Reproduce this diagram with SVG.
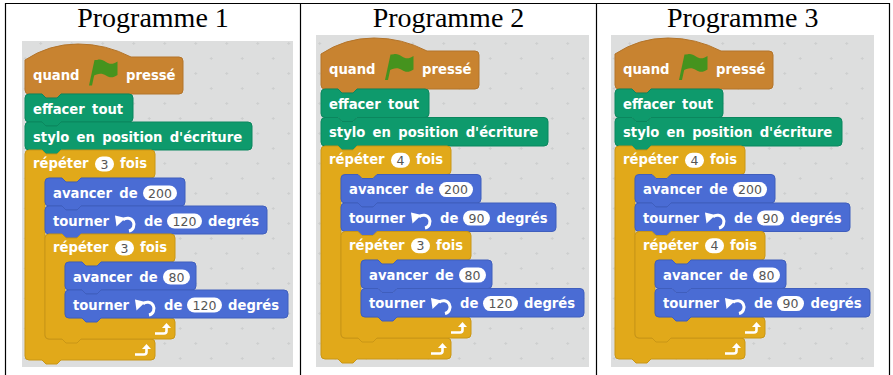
<svg xmlns="http://www.w3.org/2000/svg" width="893" height="375" viewBox="0 0 893 375">
<style>
.t{font-family:'DejaVu Sans','Liberation Sans',sans-serif;font-weight:bold;font-size:13.2px;fill:#fff;word-spacing:2.7px}
.n{font-family:'DejaVu Sans','Liberation Sans',sans-serif;font-size:12.5px;fill:#555;text-anchor:middle}
.title{font-family:'Liberation Serif',serif;font-size:28px;text-anchor:middle;fill:#000}
.ev{fill:#C88330;stroke:#B3742A;stroke-width:1}
.pen{fill:#0E9A6C;stroke:#0B875E;stroke-width:1}
.ctl{fill:#E1A91A;stroke:#C99616;stroke-width:1}
.mot{fill:#4A6CD4;stroke:#3F5EBD;stroke-width:1}
.slot{fill:#fff}
.bg{fill:url(#grid)}
.line{stroke:#000;stroke-width:1.2;fill:none}
</style>
<defs>
<pattern id="grid" width="31" height="30" patternUnits="userSpaceOnUse" x="2" y="6">
<rect width="31" height="30" fill="#DDDEDE"/>
<path d="M6.25,7.5 H9.25 M7.75,6 V9 M21.75,22.5 H24.75 M23.25,21 V24" stroke="#CDCFCF" stroke-width="1"/>
</pattern>
<g id="flag" fill="#45931E">
<path d="M1,27.5 L4,27.5 L9.5,2 L6.5,2 Z"/>
<path d="M7,3.5 C10,0.5 14,1 18,4 C21.5,6.5 25,6.5 29.5,3.5 L29.5,17 C25,20 21.5,20 18,17.5 C14,15 10,15 4.3,18.5 Z"/>
</g>
<g id="turn">
<path d="M0,0.5 L10.5,3 L1.5,11.5 Z" fill="#fff"/>
<path d="M8,5 A6.5,6.5 0 1 1 14,16" fill="none" stroke="#fff" stroke-width="3"/>
</g>
<g id="loop">
<path d="M0,11.5 L9,11.5 Q11.5,11.5 11.5,9 L11.5,5" fill="none" stroke="#fff" stroke-width="2.6"/>
<path d="M7,6 L16,6 L11.5,1 Z" fill="#fff"/>
</g>
</defs>

<g id="table">
<rect x="0" y="0" width="893" height="375" fill="#fff"/>
<path class="line" d="M5.5,3.5 H889.5 M5.5,3 V375 M300.5,3 V375 M596.5,3 V375 M889.5,3 V375"/>
<text class="title" x="153" y="27">Programme 1</text>
<text class="title" x="448.5" y="27">Programme 2</text>
<text class="title" x="742.7" y="27">Programme 3</text>
<rect class="bg" x="22" y="41" width="271" height="326"/>
<rect class="bg" x="316" y="35" width="273" height="332"/>
<rect class="bg" x="611" y="35" width="263" height="332"/>
</g>

<!-- Programme 1 -->
<g id="p1-hat" transform="translate(25,44)">
<path class="ev" d="M0,16 Q24,0 53,0 Q81,0 106,13 L154,13 Q158,13 158,17 L158,46 Q158,50 154,50 L36,50 L32,54 L21,54 L17,50 L4,50 Q0,50 0,46 Z"/>
<text class="t" x="8" y="35.5">quand</text>
<use href="#flag" x="63" y="14"/>
<text class="t" x="101" y="35.5">pressé</text>
</g>
<g id="p1-effacer" transform="translate(25,94)">
<path class="pen" d="M0,4 Q0,0 4,0 L17,0 L21,4 L32,4 L36,0 L104,0 Q108,0 108,4 L108,24 Q108,28 104,28 L36,28 L32,32 L21,32 L17,28 L4,28 Q0,28 0,24 Z"/>
<text class="t" x="8" y="19.5">effacer tout</text>
</g>
<g id="p1-stylo" transform="translate(25,122)">
<path class="pen" d="M0,4 Q0,0 4,0 L17,0 L21,4 L32,4 L36,0 L223,0 Q227,0 227,4 L227,24 Q227,28 223,28 L36,28 L32,32 L21,32 L17,28 L4,28 Q0,28 0,24 Z"/>
<text class="t" x="8" y="19.5">stylo en position d'écriture</text>
</g>
<g id="p1-repeat-outer" transform="translate(25,150)">
<path class="ctl" d="M0,4 Q0,0 4,0 L17,0 L21,4 L32,4 L36,0 L126,0 Q130,0 130,4 L130,24 Q130,28 126,28 L56,28 L52,32 L41,32 L37,28 L23,28 Q20,28 20,31 L20,186 Q20,189 23,189 L126,189 Q130,189 130,193 L130,206 Q130,210 126,210 L36,210 L32,214 L21,214 L17,210 L4,210 Q0,210 0,206 Z"/>
<text class="t" x="8" y="18">répéter</text>
<rect class="slot" x="70" y="6.5" width="19" height="15" rx="7.5"/>
<text class="n" x="79.5" y="18.5">3</text>
<text class="t" x="95" y="18">fois</text>
<use href="#loop" x="110" y="193"/>
</g>
<g id="p1-avancer-200" transform="translate(45,178)">
<path class="mot" d="M0,4 Q0,0 4,0 L17,0 L21,4 L32,4 L36,0 L136,0 Q140,0 140,4 L140,24 Q140,28 136,28 L36,28 L32,32 L21,32 L17,28 L4,28 Q0,28 0,24 Z"/>
<text class="t" x="8" y="19.5">avancer de</text>
<rect class="slot" x="98" y="7.5" width="34" height="15" rx="7.5"/>
<text class="n" x="115" y="19.5">200</text>
</g>
<g id="p1-tourner-120-a" transform="translate(45,206)">
<path class="mot" d="M0,4 Q0,0 4,0 L17,0 L21,4 L32,4 L36,0 L218,0 Q222,0 222,4 L222,24 Q222,28 218,28 L36,28 L32,32 L21,32 L17,28 L4,28 Q0,28 0,24 Z"/>
<text class="t" x="8" y="19.5">tourner</text>
<use href="#turn" x="70" y="9"/>
<text class="t" x="99" y="19.5">de</text>
<rect class="slot" x="122" y="7.5" width="35" height="15" rx="7.5"/>
<text class="n" x="139.5" y="19.5">120</text>
<text class="t" x="163" y="19.5">degrés</text>
</g>
<g id="p1-repeat-inner" transform="translate(45,234)">
<path class="ctl" d="M0,4 Q0,0 4,0 L17,0 L21,4 L32,4 L36,0 L126,0 Q130,0 130,4 L130,24 Q130,28 126,28 L56,28 L52,32 L41,32 L37,28 L23,28 Q20,28 20,31 L20,81 Q20,84 23,84 L126,84 Q130,84 130,88 L130,101 Q130,105 126,105 L36,105 L32,109 L21,109 L17,105 L4,105 Q0,105 0,101 Z"/>
<text class="t" x="8" y="18">répéter</text>
<rect class="slot" x="70" y="6.5" width="19" height="15" rx="7.5"/>
<text class="n" x="79.5" y="18.5">3</text>
<text class="t" x="95" y="18">fois</text>
<use href="#loop" x="110" y="88"/>
</g>
<g id="p1-avancer-80" transform="translate(65,262)">
<path class="mot" d="M0,4 Q0,0 4,0 L17,0 L21,4 L32,4 L36,0 L127,0 Q131,0 131,4 L131,24 Q131,28 127,28 L36,28 L32,32 L21,32 L17,28 L4,28 Q0,28 0,24 Z"/>
<text class="t" x="8" y="19.5">avancer de</text>
<rect class="slot" x="98" y="7.5" width="27" height="15" rx="7.5"/>
<text class="n" x="111.5" y="19.5">80</text>
</g>
<g id="p1-tourner-120-b" transform="translate(65,290)">
<path class="mot" d="M0,4 Q0,0 4,0 L17,0 L21,4 L32,4 L36,0 L219,0 Q223,0 223,4 L223,24 Q223,28 219,28 L36,28 L32,32 L21,32 L17,28 L4,28 Q0,28 0,24 Z"/>
<text class="t" x="8" y="19.5">tourner</text>
<use href="#turn" x="70" y="9"/>
<text class="t" x="99" y="19.5">de</text>
<rect class="slot" x="122" y="7.5" width="35" height="15" rx="7.5"/>
<text class="n" x="139.5" y="19.5">120</text>
<text class="t" x="163" y="19.5">degrés</text>
</g>

<!-- Programme 2 -->
<g id="p2-hat" transform="translate(321,38)">
<path class="ev" d="M0,16 Q24,0 53,0 Q81,0 106,13 L154,13 Q158,13 158,17 L158,47 Q158,51 154,51 L36,51 L32,55 L21,55 L17,51 L4,51 Q0,51 0,47 Z"/>
<text class="t" x="8" y="36">quand</text>
<use href="#flag" x="63" y="14.5"/>
<text class="t" x="101" y="36">pressé</text>
</g>
<g id="p2-effacer" transform="translate(321,89)">
<path class="pen" d="M0,4 Q0,0 4,0 L17,0 L21,4 L32,4 L36,0 L104,0 Q108,0 108,4 L108,24.5 Q108,28.5 104,28.5 L36,28.5 L32,32.5 L21,32.5 L17,28.5 L4,28.5 Q0,28.5 0,24.5 Z"/>
<text class="t" x="8" y="19.6">effacer tout</text>
</g>
<g id="p2-stylo" transform="translate(321,117.5)">
<path class="pen" d="M0,4 Q0,0 4,0 L17,0 L21,4 L32,4 L36,0 L223,0 Q227,0 227,4 L227,24.5 Q227,28.5 223,28.5 L36,28.5 L32,32.5 L21,32.5 L17,28.5 L4,28.5 Q0,28.5 0,24.5 Z"/>
<text class="t" x="8" y="19.6">stylo en position d'écriture</text>
</g>
<g id="p2-repeat-outer" transform="translate(321,146)">
<path class="ctl" d="M0,4 Q0,0 4,0 L17,0 L21,4 L32,4 L36,0 L126,0 Q130,0 130,4 L130,24.5 Q130,28.5 126,28.5 L56,28.5 L52,32.5 L41,32.5 L37,28.5 L23,28.5 Q20,28.5 20,31.5 L20,189 Q20,192 23,192 L126,192 Q130,192 130,196 L130,209 Q130,213 126,213 L36,213 L32,217 L21,217 L17,213 L4,213 Q0,213 0,209 Z"/>
<text class="t" x="8" y="18.2">répéter</text>
<rect class="slot" x="70" y="6.7" width="19" height="15" rx="7.5"/>
<text class="n" x="79.5" y="18.7">4</text>
<text class="t" x="95" y="18.2">fois</text>
<use href="#loop" x="110" y="196"/>
</g>
<g id="p2-avancer-200" transform="translate(341,174.5)">
<path class="mot" d="M0,4 Q0,0 4,0 L17,0 L21,4 L32,4 L36,0 L136,0 Q140,0 140,4 L140,24.5 Q140,28.5 136,28.5 L36,28.5 L32,32.5 L21,32.5 L17,28.5 L4,28.5 Q0,28.5 0,24.5 Z"/>
<text class="t" x="8" y="19.6">avancer de</text>
<rect class="slot" x="98" y="7.6" width="34" height="15" rx="7.5"/>
<text class="n" x="115" y="19.6">200</text>
</g>
<g id="p2-tourner-90" transform="translate(341,203)">
<path class="mot" d="M0,4 Q0,0 4,0 L17,0 L21,4 L32,4 L36,0 L211,0 Q215,0 215,4 L215,24.5 Q215,28.5 211,28.5 L36,28.5 L32,32.5 L21,32.5 L17,28.5 L4,28.5 Q0,28.5 0,24.5 Z"/>
<text class="t" x="8" y="19.6">tourner</text>
<use href="#turn" x="70" y="9"/>
<text class="t" x="99" y="19.6">de</text>
<rect class="slot" x="122" y="7.6" width="27" height="15" rx="7.5"/>
<text class="n" x="135.5" y="19.6">90</text>
<text class="t" x="155.5" y="19.6">degrés</text>
</g>
<g id="p2-repeat-inner" transform="translate(341,231.5)">
<path class="ctl" d="M0,4 Q0,0 4,0 L17,0 L21,4 L32,4 L36,0 L126,0 Q130,0 130,4 L130,24.5 Q130,28.5 126,28.5 L56,28.5 L52,32.5 L41,32.5 L37,28.5 L23,28.5 Q20,28.5 20,31.5 L20,82.5 Q20,85.5 23,85.5 L126,85.5 Q130,85.5 130,89.5 L130,102.5 Q130,106.5 126,106.5 L36,106.5 L32,110.5 L21,110.5 L17,106.5 L4,106.5 Q0,106.5 0,102.5 Z"/>
<text class="t" x="8" y="18.2">répéter</text>
<rect class="slot" x="70" y="6.7" width="19" height="15" rx="7.5"/>
<text class="n" x="79.5" y="18.7">3</text>
<text class="t" x="95" y="18.2">fois</text>
<use href="#loop" x="110" y="89.5"/>
</g>
<g id="p2-avancer-80" transform="translate(361,260)">
<path class="mot" d="M0,4 Q0,0 4,0 L17,0 L21,4 L32,4 L36,0 L127,0 Q131,0 131,4 L131,24.5 Q131,28.5 127,28.5 L36,28.5 L32,32.5 L21,32.5 L17,28.5 L4,28.5 Q0,28.5 0,24.5 Z"/>
<text class="t" x="8" y="19.6">avancer de</text>
<rect class="slot" x="98" y="7.6" width="27" height="15" rx="7.5"/>
<text class="n" x="111.5" y="19.6">80</text>
</g>
<g id="p2-tourner-120" transform="translate(361,288.5)">
<path class="mot" d="M0,4 Q0,0 4,0 L17,0 L21,4 L32,4 L36,0 L219,0 Q223,0 223,4 L223,24.5 Q223,28.5 219,28.5 L36,28.5 L32,32.5 L21,32.5 L17,28.5 L4,28.5 Q0,28.5 0,24.5 Z"/>
<text class="t" x="8" y="19.6">tourner</text>
<use href="#turn" x="70" y="9"/>
<text class="t" x="99" y="19.6">de</text>
<rect class="slot" x="122" y="7.6" width="35" height="15" rx="7.5"/>
<text class="n" x="139.5" y="19.6">120</text>
<text class="t" x="163" y="19.6">degrés</text>
</g>

<!-- Programme 3 -->
<g id="p3-hat" transform="translate(615,38)">
<path class="ev" d="M0,16 Q24,0 53,0 Q81,0 106,13 L154,13 Q158,13 158,17 L158,47 Q158,51 154,51 L36,51 L32,55 L21,55 L17,51 L4,51 Q0,51 0,47 Z"/>
<text class="t" x="8" y="36">quand</text>
<use href="#flag" x="63" y="14.5"/>
<text class="t" x="101" y="36">pressé</text>
</g>
<g id="p3-effacer" transform="translate(615,89)">
<path class="pen" d="M0,4 Q0,0 4,0 L17,0 L21,4 L32,4 L36,0 L104,0 Q108,0 108,4 L108,24.5 Q108,28.5 104,28.5 L36,28.5 L32,32.5 L21,32.5 L17,28.5 L4,28.5 Q0,28.5 0,24.5 Z"/>
<text class="t" x="8" y="19.6">effacer tout</text>
</g>
<g id="p3-stylo" transform="translate(615,117.5)">
<path class="pen" d="M0,4 Q0,0 4,0 L17,0 L21,4 L32,4 L36,0 L223,0 Q227,0 227,4 L227,24.5 Q227,28.5 223,28.5 L36,28.5 L32,32.5 L21,32.5 L17,28.5 L4,28.5 Q0,28.5 0,24.5 Z"/>
<text class="t" x="8" y="19.6">stylo en position d'écriture</text>
</g>
<g id="p3-repeat-outer" transform="translate(615,146)">
<path class="ctl" d="M0,4 Q0,0 4,0 L17,0 L21,4 L32,4 L36,0 L126,0 Q130,0 130,4 L130,24.5 Q130,28.5 126,28.5 L56,28.5 L52,32.5 L41,32.5 L37,28.5 L23,28.5 Q20,28.5 20,31.5 L20,189 Q20,192 23,192 L126,192 Q130,192 130,196 L130,209 Q130,213 126,213 L36,213 L32,217 L21,217 L17,213 L4,213 Q0,213 0,209 Z"/>
<text class="t" x="8" y="18.2">répéter</text>
<rect class="slot" x="70" y="6.7" width="19" height="15" rx="7.5"/>
<text class="n" x="79.5" y="18.7">4</text>
<text class="t" x="95" y="18.2">fois</text>
<use href="#loop" x="110" y="196"/>
</g>
<g id="p3-avancer-200" transform="translate(635,174.5)">
<path class="mot" d="M0,4 Q0,0 4,0 L17,0 L21,4 L32,4 L36,0 L136,0 Q140,0 140,4 L140,24.5 Q140,28.5 136,28.5 L36,28.5 L32,32.5 L21,32.5 L17,28.5 L4,28.5 Q0,28.5 0,24.5 Z"/>
<text class="t" x="8" y="19.6">avancer de</text>
<rect class="slot" x="98" y="7.6" width="34" height="15" rx="7.5"/>
<text class="n" x="115" y="19.6">200</text>
</g>
<g id="p3-tourner-90-a" transform="translate(635,203)">
<path class="mot" d="M0,4 Q0,0 4,0 L17,0 L21,4 L32,4 L36,0 L211,0 Q215,0 215,4 L215,24.5 Q215,28.5 211,28.5 L36,28.5 L32,32.5 L21,32.5 L17,28.5 L4,28.5 Q0,28.5 0,24.5 Z"/>
<text class="t" x="8" y="19.6">tourner</text>
<use href="#turn" x="70" y="9"/>
<text class="t" x="99" y="19.6">de</text>
<rect class="slot" x="122" y="7.6" width="27" height="15" rx="7.5"/>
<text class="n" x="135.5" y="19.6">90</text>
<text class="t" x="155.5" y="19.6">degrés</text>
</g>
<g id="p3-repeat-inner" transform="translate(635,231.5)">
<path class="ctl" d="M0,4 Q0,0 4,0 L17,0 L21,4 L32,4 L36,0 L126,0 Q130,0 130,4 L130,24.5 Q130,28.5 126,28.5 L56,28.5 L52,32.5 L41,32.5 L37,28.5 L23,28.5 Q20,28.5 20,31.5 L20,82.5 Q20,85.5 23,85.5 L126,85.5 Q130,85.5 130,89.5 L130,102.5 Q130,106.5 126,106.5 L36,106.5 L32,110.5 L21,110.5 L17,106.5 L4,106.5 Q0,106.5 0,102.5 Z"/>
<text class="t" x="8" y="18.2">répéter</text>
<rect class="slot" x="70" y="6.7" width="19" height="15" rx="7.5"/>
<text class="n" x="79.5" y="18.7">4</text>
<text class="t" x="95" y="18.2">fois</text>
<use href="#loop" x="110" y="89.5"/>
</g>
<g id="p3-avancer-80" transform="translate(655,260)">
<path class="mot" d="M0,4 Q0,0 4,0 L17,0 L21,4 L32,4 L36,0 L127,0 Q131,0 131,4 L131,24.5 Q131,28.5 127,28.5 L36,28.5 L32,32.5 L21,32.5 L17,28.5 L4,28.5 Q0,28.5 0,24.5 Z"/>
<text class="t" x="8" y="19.6">avancer de</text>
<rect class="slot" x="98" y="7.6" width="27" height="15" rx="7.5"/>
<text class="n" x="111.5" y="19.6">80</text>
</g>
<g id="p3-tourner-90-b" transform="translate(655,288.5)">
<path class="mot" d="M0,4 Q0,0 4,0 L17,0 L21,4 L32,4 L36,0 L211,0 Q215,0 215,4 L215,24.5 Q215,28.5 211,28.5 L36,28.5 L32,32.5 L21,32.5 L17,28.5 L4,28.5 Q0,28.5 0,24.5 Z"/>
<text class="t" x="8" y="19.6">tourner</text>
<use href="#turn" x="70" y="9"/>
<text class="t" x="99" y="19.6">de</text>
<rect class="slot" x="122" y="7.6" width="27" height="15" rx="7.5"/>
<text class="n" x="135.5" y="19.6">90</text>
<text class="t" x="155.5" y="19.6">degrés</text>
</g>
</svg>
